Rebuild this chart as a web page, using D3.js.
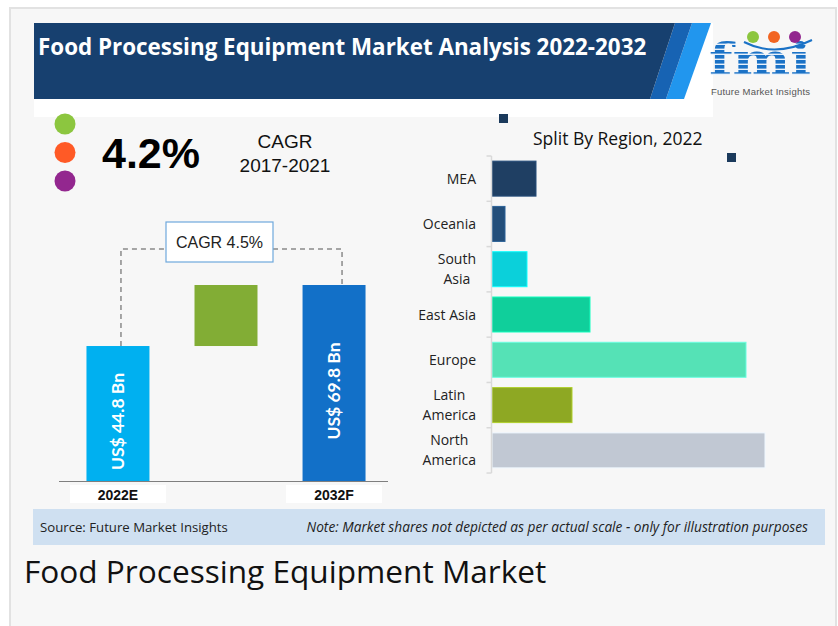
<!DOCTYPE html>
<html>
<head>
<meta charset="utf-8">
<script src="https://cdn.jsdelivr.net/npm/d3@7"></script>
<style>
  body { margin: 0; background: #fff; }
  svg { display: block; }
</style>
</head>
<body>
<div id="chart"></div>
<script>
// Data
const title = "Food Processing Equipment Market Analysis 2022-2032"
const years = ["2022E", "2032F"]
const marketValues = [44.8, 69.8]
const valueLabels = ["US$ 44.8 Bn", "US$ 69.8 Bn"]
const cagrPast = "4.2%"
const cagrFuture = "CAGR 4.5%"

const regions = ["MEA", "Oceania", "South Asia", "East Asia", "Europe", "Latin America", "North America"]
const regionShare = [4.4, 1.3, 3.5, 9.8, 25.4, 8.0, 27.3]   // illustrative, not to scale
const regionColors = ["#1f3f63", "#234e7a", "#0bd0da", "#10cf9b", "#55e2b6", "#8ea823", "#c1c8d3"]
const regionLines = {
    "South Asia": ["South", "Asia"],
    "Latin America": ["Latin", "America"],
    "North America": ["North", "America"]
}

const W = 838, H = 626

const svg = d3.select("#chart")
    .append("svg")
    .attr("width", W)
    .attr("height", H)

// panel
svg.append("rect")
    .attr("x", 10).attr("y", 8)
    .attr("width", 826).attr("height", 630)
    .attr("fill", "#f7f7f7")
    .attr("stroke", "#e2e2e2")
    .attr("stroke-width", 2)

// header
svg.append("rect")
    .attr("x", 34).attr("y", 23)
    .attr("width", 679).attr("height", 94)
    .attr("fill", "#fff")

svg.append("polygon")
    .attr("points", "692,23 711,23 684,99 666,99")
    .attr("fill", "#2196ee")
svg.append("polygon")
    .attr("points", "675,23 692,23 666,99 650,99")
    .attr("fill", "#1763b3")
svg.append("polygon")
    .attr("points", "34,23 675,23 650,99 34,99")
    .attr("fill", "#17406f")

svg.append("text")
    .attr("x", 38).attr("y", 55)
    .attr("fill", "#fff")
    .style("font-family", "'Open Sans', sans-serif")
    .style("font-weight", "bold")
    .style("font-size", "22.4px")
    .text(title)

// logo
const defs = svg.append("defs")
const pat = defs.append("pattern")
    .attr("id", "stripes")
    .attr("patternUnits", "userSpaceOnUse")
    .attr("width", 10).attr("height", 5)
pat.append("rect").attr("width", 10).attr("height", 5).attr("fill", "#1b72c6")
pat.append("rect").attr("y", 3.6).attr("width", 10).attr("height", 1.4).attr("fill", "#e8f1fb")

svg.append("text")
    .attr("x", 709).attr("y", 75)
    .attr("fill", "url(#stripes)")
    .style("font-family", "'DejaVu Serif', serif")
    .style("font-weight", "bold")
    .style("font-size", "44px")
    .attr("textLength", 102)
    .attr("lengthAdjust", "spacingAndGlyphs")
    .text("fmi")

svg.append("path")
    .attr("d", "M744,42 Q775,58 812,40")
    .attr("fill", "none")
    .attr("stroke", "#1b72c6")
    .attr("stroke-width", 2)

const logoDots = [["#8cc63f", 753], ["#f26522", 774], ["#93278f", 795]]
svg.selectAll(".logodot")
    .data(logoDots)
    .join("circle")
    .attr("class", "logodot")
    .attr("cx", d => d[1]).attr("cy", 37)
    .attr("r", 6)
    .attr("fill", d => d[0])

svg.append("text")
    .attr("x", 711).attr("y", 95)
    .attr("fill", "#555")
    .style("font-family", "'Liberation Sans', Arial, sans-serif")
    .style("font-size", "9.5px")
    .attr("textLength", 99)
    .text("Future Market Insights")

// three dots on the left
const dots = ["#8cc63f", "#ff5a26", "#93278f"]
svg.selectAll(".dot")
    .data(dots)
    .join("circle")
    .attr("class", "dot")
    .attr("cx", 65)
    .attr("cy", (d, i) => 124 + i * 28.5)
    .attr("r", 10.5)
    .attr("fill", d => d)

svg.append("text")
    .attr("x", 102).attr("y", 168)
    .attr("fill", "#000")
    .style("font-family", "'Liberation Sans', Arial, sans-serif")
    .style("font-weight", "bold")
    .style("font-size", "43px")
    .text(cagrPast)

svg.append("text")
    .attr("x", 285).attr("y", 148)
    .attr("text-anchor", "middle")
    .attr("fill", "#111")
    .style("font-family", "'Liberation Sans', Arial, sans-serif")
    .style("font-size", "19px")
    .text("CAGR")
svg.append("text")
    .attr("x", 285).attr("y", 172)
    .attr("text-anchor", "middle")
    .attr("fill", "#111")
    .style("font-family", "'Liberation Sans', Arial, sans-serif")
    .style("font-size", "19px")
    .text("2017-2021")

// ---- left: market value bars ----
const baseY = 481
const x = d3.scaleBand()
    .domain([years[0], "growth", years[1]])
    .range([64, 388])
    .paddingInner(0.417)
    .paddingOuter(0.208)

// bars are for illustration only, so the value axis does not start at zero
const y = d3.scaleLinear()
    .domain([-10.5, 69.8])
    .range([baseY, 285])

const barColors = ["#00b0f0", "#1270c8"]

svg.selectAll(".mbar")
    .data(years)
    .join("rect")
    .attr("class", "mbar")
    .attr("x", d => x(d))
    .attr("y", (d, i) => y(marketValues[i]))
    .attr("width", x.bandwidth())
    .attr("height", (d, i) => baseY - y(marketValues[i]))
    .attr("fill", (d, i) => barColors[i])

// growth block between the two values
svg.append("rect")
    .attr("x", x("growth"))
    .attr("y", y(marketValues[1]))
    .attr("width", x.bandwidth())
    .attr("height", y(marketValues[0]) - y(marketValues[1]))
    .attr("fill", "#82ad35")

svg.selectAll(".mlabel")
    .data(years)
    .join("text")
    .attr("class", "mlabel")
    .attr("transform", (d, i) => {
        const cx = x(d) + x.bandwidth() / 2 + 6
        const cy = (y(marketValues[i]) + baseY) / 2 + 8
        return `translate(${cx},${cy}) rotate(-90)`
    })
    .attr("text-anchor", "middle")
    .attr("fill", "#fff")
    .style("font-family", "Lato, sans-serif")
    .style("font-weight", "bold")
    .style("font-size", "17.5px")
    .text((d, i) => valueLabels[i])

// baseline
svg.append("line")
    .attr("x1", 59).attr("x2", 388)
    .attr("y1", baseY + 0.5).attr("y2", baseY + 0.5)
    .attr("stroke", "#7f7f7f")
    .attr("stroke-width", 1)

// year labels
years.forEach(function (d) {
    const cx = x(d) + x.bandwidth() / 2
    svg.append("rect")
        .attr("x", cx - 48).attr("y", 485)
        .attr("width", 96).attr("height", 18)
        .attr("fill", "#fff")
    svg.append("text")
        .attr("x", cx).attr("y", 500)
        .attr("text-anchor", "middle")
        .attr("fill", "#111")
        .style("font-family", "'Liberation Sans', Arial, sans-serif")
        .style("font-weight", "bold")
        .style("font-size", "14px")
        .text(d)
})

// dashed connector + CAGR box
const lx = x(years[0]) + x.bandwidth() / 2 + 3
const rx = x(years[1]) + x.bandwidth() / 2 + 8
const dashY = 249
svg.append("path")
    .attr("d", `M${lx},${y(marketValues[0])} V${dashY} H166 M273,${dashY} H${rx} V${y(marketValues[1])}`)
    .attr("fill", "none")
    .attr("stroke", "#8a8a8a")
    .attr("stroke-width", 1.5)
    .attr("stroke-dasharray", "5,4")

svg.append("rect")
    .attr("x", 166).attr("y", 222)
    .attr("width", 107).attr("height", 40)
    .attr("fill", "#fff")
    .attr("stroke", "#6fa8dc")
    .attr("stroke-width", 1.2)
svg.append("text")
    .attr("x", 219.5).attr("y", 248)
    .attr("text-anchor", "middle")
    .attr("fill", "#222")
    .style("font-family", "'Liberation Sans', Arial, sans-serif")
    .style("font-size", "16px")
    .text(cagrFuture)

// ---- right: split by region ----
svg.append("text")
    .attr("x", 533).attr("y", 145)
    .attr("fill", "#111")
    .style("font-family", "'Open Sans', sans-serif")
    .style("font-size", "17.5px")
    .text("Split By Region, 2022")

svg.append("rect").attr("x", 499).attr("y", 114).attr("width", 9).attr("height", 9).attr("fill", "#1b3a5c")
svg.append("rect").attr("x", 727).attr("y", 153).attr("width", 9).attr("height", 9).attr("fill", "#1b3a5c")

const ry = d3.scaleBand()
    .domain(regions)
    .range([156, 473])
    .paddingInner(0.227)
    .paddingOuter(0.113)

const rxs = d3.scaleLinear()
    .domain([0, 30])
    .range([492, 792])

svg.selectAll(".rbar")
    .data(regions)
    .join("rect")
    .attr("class", "rbar")
    .attr("x", rxs(0))
    .attr("y", d => ry(d))
    .attr("width", (d, i) => rxs(regionShare[i]) - rxs(0))
    .attr("height", ry.bandwidth())
    .attr("fill", (d, i) => regionColors[i])
    .attr("stroke", (d, i) => d3.color(regionColors[i]).brighter(0.6))
    .attr("stroke-width", 1)

// axis line with ticks at category boundaries
const axisX = 491.5
svg.append("line")
    .attr("x1", axisX).attr("x2", axisX)
    .attr("y1", 156).attr("y2", 473)
    .attr("stroke", "#d9d9d9")
    .attr("stroke-width", 1.5)
const bounds = d3.range(regions.length + 1).map(i => 156 + i * ry.step())
svg.selectAll(".rtick")
    .data(bounds)
    .join("line")
    .attr("class", "rtick")
    .attr("x1", axisX - 5).attr("x2", axisX)
    .attr("y1", d => d).attr("y2", d => d)
    .attr("stroke", "#d9d9d9")
    .attr("stroke-width", 1.5)

// category labels
regions.forEach(function (r) {
    const cy = ry(r) + ry.bandwidth() / 2
    const lines = regionLines[r] || [r]
    const g = svg.append("g")
    const texts = lines.map(function (l, j) {
        return g.append("text")
            .attr("y", cy + 5 + (j - (lines.length - 1) / 2) * 20)
            .attr("fill", "#222")
            .style("font-family", "'Open Sans', sans-serif")
            .style("font-size", "14px")
            .text(l)
    })
    const widths = texts.map(t => t.node().getComputedTextLength())
    const maxW = d3.max(widths)
    texts.forEach(function (t) {
        t.attr("text-anchor", "middle").attr("x", 476 - maxW / 2)
    })
})

// ---- footer ----
svg.append("rect")
    .attr("x", 33).attr("y", 509)
    .attr("width", 792).attr("height", 36)
    .attr("fill", "#cfe0f1")
svg.append("text")
    .attr("x", 40).attr("y", 532)
    .attr("fill", "#222")
    .style("font-family", "'Open Sans', sans-serif")
    .style("font-size", "13.2px")
    .text("Source: Future Market Insights")
svg.append("text")
    .attr("x", 808).attr("y", 532)
    .attr("text-anchor", "end")
    .attr("fill", "#222")
    .style("font-family", "'Open Sans', sans-serif")
    .style("font-style", "italic")
    .style("font-size", "13.7px")
    .text("Note: Market shares not depicted as per actual scale - only for illustration purposes")

svg.append("text")
    .attr("x", 24).attr("y", 583)
    .attr("fill", "#111")
    .style("font-family", "'Open Sans', sans-serif")
    .style("font-size", "31.6px")
    .text("Food Processing Equipment Market")
</script>
</body>
</html>
